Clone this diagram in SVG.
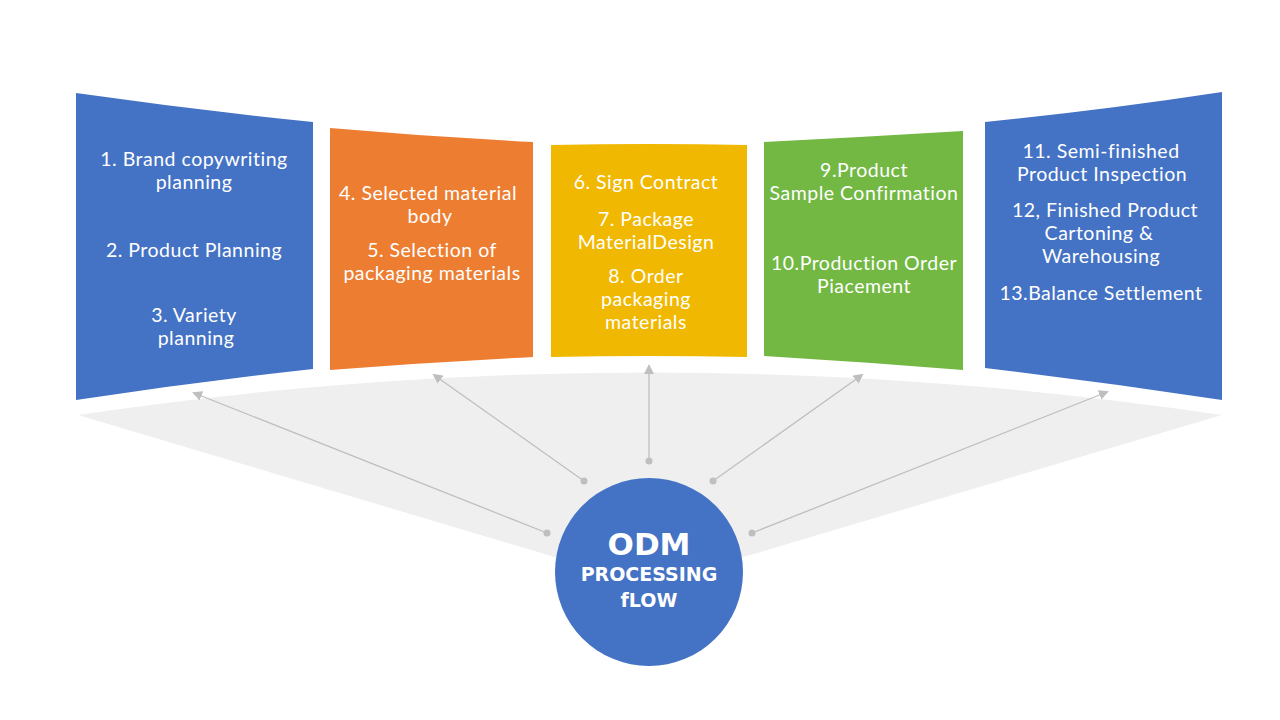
<svg xmlns="http://www.w3.org/2000/svg" width="1280" height="720" viewBox="0 0 1280 720">
<defs>
<marker id="ah" markerWidth="10" markerHeight="10" refX="8" refY="5" orient="auto" markerUnits="userSpaceOnUse">
<path d="M0,0 L10,5 L0,10 z" fill="#BFBFBF"/>
</marker>
<marker id="dot" markerWidth="8" markerHeight="8" refX="4" refY="4" markerUnits="userSpaceOnUse">
<circle cx="4" cy="4" r="3.5" fill="#BFBFBF"/>
</marker>
</defs>
<style>
.t{font-family:"Lato","Noto Sans",sans-serif;font-size:19.5px;letter-spacing:0.5px;fill:#FFFFFF;text-anchor:middle}
.c{font-family:"DejaVu Sans","Open Sans",sans-serif;font-weight:bold;fill:#FFFFFF;text-anchor:middle}
.conn{stroke:#BFBFBF;stroke-width:1.3;fill:none;marker-start:url(#dot);marker-end:url(#ah)}
</style>
<rect width="1280" height="720" fill="#FFFFFF"/>
<path id="fan" d="M78,415 Q649,330 1222,415 L740,558 Q649,600 558,558 Z" fill="#EFEFEF"/>
<g id="panel1">
<path d="M76,93 Q195,110 313,122 L313,369 Q195,382 76,400 Z" fill="#4472C4"/>
<text class="t" x="194" y="166">1. Brand copywriting</text>
<text class="t" x="194" y="189">planning</text>
<text class="t" x="194" y="257">2. Product Planning</text>
<text class="t" x="194" y="322">3. Variety</text>
<text class="t" x="196" y="345">planning</text>
</g>
<g id="panel2">
<path d="M330,128 Q432,137 533,142 L533,357 Q432,362 330,370 Z" fill="#ED7D31"/>
<text class="t" x="428" y="200">4. Selected material</text>
<text class="t" x="430" y="223">body</text>
<text class="t" x="432" y="257">5. Selection of</text>
<text class="t" x="432" y="280">packaging materials</text>
</g>
<g id="panel3">
<path d="M551,145 Q649,143 747,145 L747,357 Q649,355 551,357 Z" fill="#F0B800"/>
<text class="t" x="646" y="189">6. Sign Contract</text>
<text class="t" x="646" y="226">7. Package</text>
<text class="t" x="646" y="249">MaterialDesign</text>
<text class="t" x="646" y="283">8. Order</text>
<text class="t" x="646" y="306">packaging</text>
<text class="t" x="646" y="329">materials</text>
</g>
<g id="panel4">
<path d="M764,142 Q864,137 963,131 L963,370 Q864,362 764,356 Z" fill="#72B843"/>
<text class="t" x="864" y="177">9.Product</text>
<text class="t" x="864" y="200">Sample Confirmation</text>
<text class="t" x="864" y="270">10.Production Order</text>
<text class="t" x="864" y="293">Piacement</text>
</g>
<g id="panel5">
<path d="M985,122 Q1104,110 1222,92 L1222,400 Q1104,382 985,368 Z" fill="#4472C4"/>
<text class="t" x="1101" y="158">11. Semi-finished</text>
<text class="t" x="1102" y="181">Product Inspection</text>
<text class="t" x="1105" y="217">12, Finished Product</text>
<text class="t" x="1099" y="240">Cartoning &amp;</text>
<text class="t" x="1101" y="263">Warehousing</text>
<text class="t" x="1101" y="300">13.Balance Settlement</text>
</g>
<g id="connectors">
<line class="conn" x1="547" y1="533" x2="194" y2="393"/>
<line class="conn" x1="584" y1="481" x2="434" y2="375"/>
<line class="conn" x1="649" y1="461" x2="649" y2="366"/>
<line class="conn" x1="713" y1="481" x2="862" y2="375"/>
<line class="conn" x1="752" y1="533" x2="1107" y2="392"/>
</g>
<g id="center">
<circle cx="649" cy="572" r="94" fill="#4472C4"/>
<text class="c" x="649" y="554.5" font-size="31">ODM</text>
<text class="c" x="649" y="581" font-size="19">PROCESSING</text>
<text class="c" x="649" y="607" font-size="19">fLOW</text>
</g>
</svg>
